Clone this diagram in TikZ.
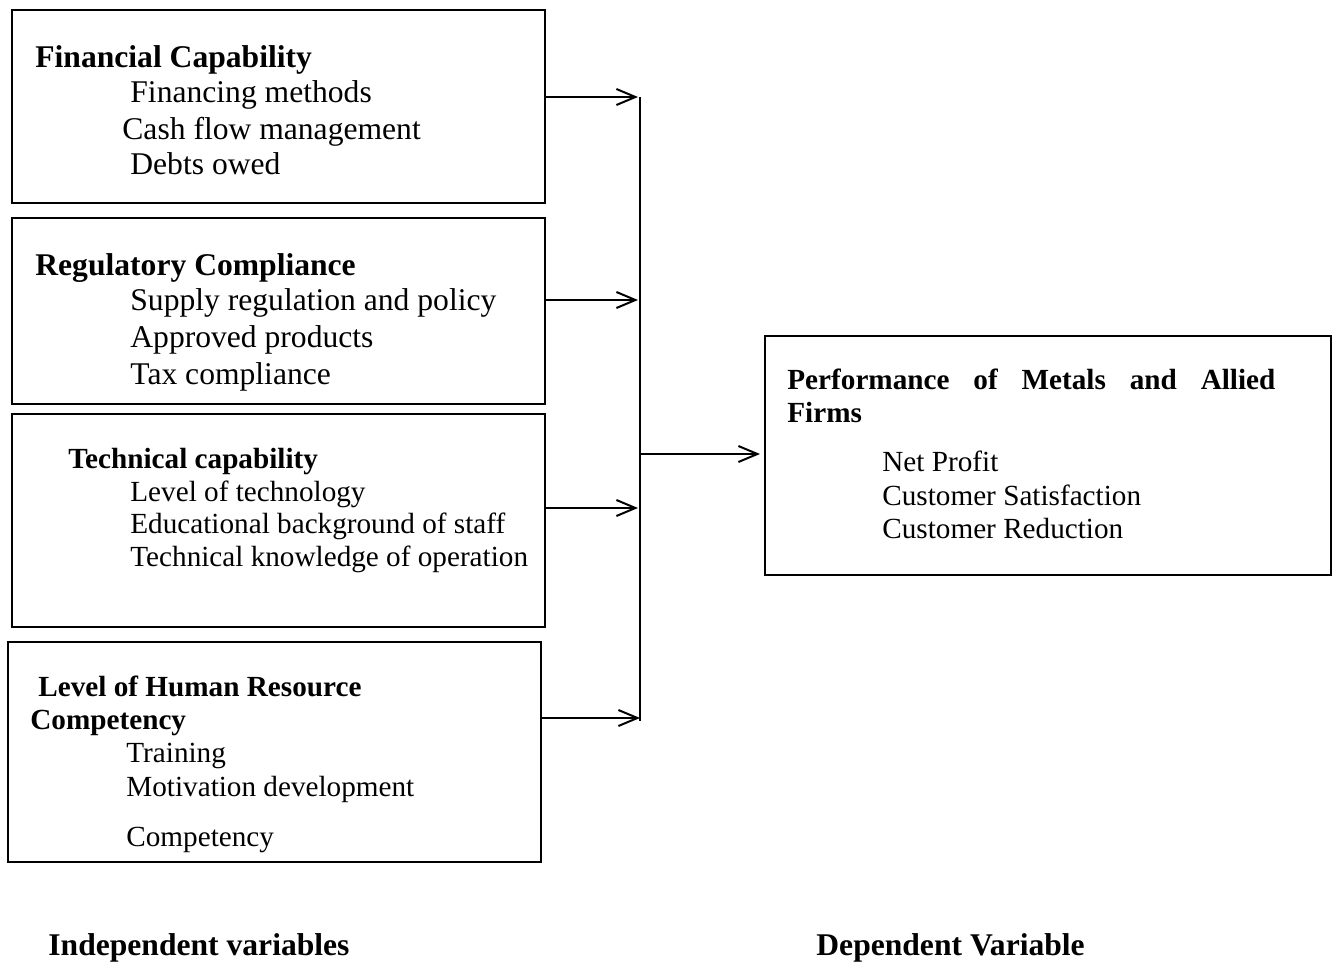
\documentclass[tikz,border=0pt]{standalone}
\usepackage{fontspec}
\setmainfont{Liberation Serif}
\usepackage{tikz}
\usetikzlibrary{arrows.meta, positioning}

\begin{document}
\begin{tikzpicture}[x=0.5pt, y=-0.5pt,
          box/.style={rectangle, draw=black, line width=1pt, minimum width=266.5pt},
          big/.style={anchor=base west, inner sep=0pt, font=\fontsize{15.8pt}{19pt}\selectfont},
          small/.style={anchor=base west, inner sep=0pt, font=\fontsize{14.6pt}{17pt}\selectfont},
          bigb/.style={big, font=\fontsize{15.8pt}{19pt}\selectfont\bfseries},
          smallb/.style={small, font=\fontsize{14.6pt}{17pt}\selectfont\bfseries},
          arr/.style={-{Straight Barb[length=9.5pt, width=8pt]}, line width=1pt},
          bus/.style={line width=1pt}
        ]
        \useasboundingbox (0,0) rectangle (1334,964);

        % Independent variables
        \node[box, minimum height=96.5pt]  (fin)  at (278.5, 106.5) {};
        \node[box, minimum height=93pt]    (reg)  at (278.5, 311)   {};
        \node[box, minimum height=106.5pt] (tech) at (278.5, 520.5) {};
        \node[box, minimum height=110pt]   (hr)   at (274.5, 752)   {};

        % Financial capability
        \node[bigb] (finT) at (35, 67)  {Financial Capability};
        \node[big]  (fin1) at (130, 102) {Financing methods};
        \node[big]  (fin2) at (122, 139) {Cash flow management};
        \node[big]  (fin3) at (130, 174) {Debts owed};

        % Regulatory compliance
        \node[bigb] (regT) at (35, 275)  {Regulatory Compliance};
        \node[big]  (reg1) at (130, 310) {Supply regulation and policy};
        \node[big]  (reg2) at (130, 347) {Approved products};
        \node[big]  (reg3) at (130, 384) {Tax compliance};

        % Technical capability
        \node[smallb] (techT) at (68, 468)  {Technical capability};
        \node[small]  (tech1) at (130, 501) {Level of technology};
        \node[small]  (tech2) at (130, 533) {Educational background of staff};
        \node[small]  (tech3) at (130, 566) {Technical knowledge of operation};

        % Human resource
        \node[smallb] (hrT)  at (38, 696)  {Level of Human Resource};
        \node[smallb] (hrT2) at (30, 729)  {Competency};
        \node[small]  (hr1)  at (126, 762) {Training};
        \node[small]  (hr2)  at (126, 796) {Motivation development};
        \node[small]  (hr3)  at (126, 846) {Competency};

        % Dependent variable
        \node[box, minimum width=283pt, minimum height=119.5pt]
              (perf) at (1048, 455.5) {};
        \node[smallb] (perfT)  at (787, 389)
              {\makebox[244pt][s]{Performance of Metals and Allied}};
        \node[smallb] (perfT2) at (787, 422) {Firms};
        \node[small]  (perf1)  at (882, 471) {Net Profit};
        \node[small]  (perf2)  at (882, 505) {Customer Satisfaction};
        \node[small]  (perf3)  at (882, 538) {Customer Reduction};

        % Connectors
        \coordinate (t1)   at (638, 97);
        \coordinate (t2)   at (638, 300);
        \coordinate (t3)   at (638, 508);
        \coordinate (t4)   at (640, 718);
        \coordinate (btop) at (640, 97);
        \coordinate (bbot) at (640, 721);
        \coordinate (bmid) at (640, 454);

        \draw[arr] (fin.east  |- t1) -- (t1);
        \draw[arr] (reg.east  |- t2) -- (t2);
        \draw[arr] (tech.east |- t3) -- (t3);
        \draw[arr] (hr.east   |- t4) -- (t4);
        \draw[bus] (btop) -- (bbot);
        \draw[arr, shorten >=2pt] (bmid) -- (perf.west |- bmid);

        % Captions
        \node[bigb] (indep) at (48, 955)  {Independent variables};
        \node[bigb] (dep)   at (816, 955) {Dependent Variable};
      \end{tikzpicture}
\end{document}
